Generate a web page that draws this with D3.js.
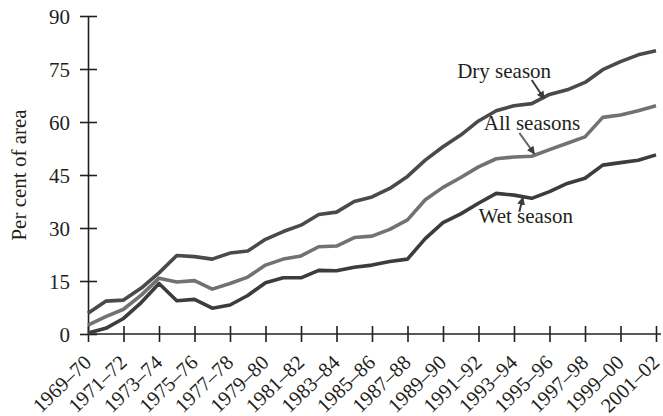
<!DOCTYPE html>
<html>
<head>
<meta charset="utf-8">
<title>Per cent of area</title>
<style>
  body{ margin:0; background:#fff; }
  svg text{ font-family:"Liberation Serif","Times New Roman",serif; fill:#231f20; }
</style>
</head>
<body>
<div id="container"></div>
<script src="https://cdn.jsdelivr.net/npm/d3@7"></script>
<script>
// season years, one point per year 1969-70 .. 2001-02
var years = ["1969–70","1970–71","1971–72","1972–73","1973–74","1974–75","1975–76","1976–77",
  "1977–78","1978–79","1979–80","1980–81","1981–82","1982–83","1983–84","1984–85","1985–86",
  "1986–87","1987–88","1988–89","1989–90","1990–91","1991–92","1992–93","1993–94","1994–95",
  "1995–96","1996–97","1997–98","1998–99","1999–00","2000–01","2001–02"];

var drySeason = [5.9, 9.3, 9.6, 13.0, 17.3, 22.2, 21.9, 21.2, 22.9, 23.5, 26.8, 29.0, 30.8, 33.8, 34.5, 37.5, 38.8,
  41.2, 44.6, 49.2, 53.0, 56.3, 60.3, 63.2, 64.6, 65.2, 67.8, 69.1, 71.2, 74.8, 77.1, 79.0, 80.2];
var allSeasons = [2.5, 4.9, 7.0, 11.0, 15.8, 14.7, 15.1, 12.7, 14.3, 16.1, 19.5, 21.2, 22.1, 24.7, 24.9, 27.3, 27.7,
  29.6, 32.3, 38.0, 41.5, 44.3, 47.3, 49.6, 50.1, 50.3, 52.2, 54.0, 55.8, 61.3, 62.0, 63.2, 64.6];
var wetSeason = [0.3, 1.6, 4.4, 8.9, 14.3, 9.4, 9.8, 7.3, 8.2, 10.9, 14.5, 15.9, 15.9, 18.0, 17.9, 18.9, 19.5,
  20.5, 21.2, 27.0, 31.5, 34.0, 37.0, 39.8, 39.3, 38.4, 40.3, 42.6, 44.1, 47.8, 48.5, 49.2, 50.7];

var yTicks = [0, 15, 30, 45, 60, 75, 90];

var margin = {top: 16, right: 7, bottom: 82, left: 88},
    width = 663 - margin.left - margin.right,
    height = 416 - margin.top - margin.bottom;

var svg = d3.select("#container").append("svg")
    .attr("width", 663)
    .attr("height", 416);

var g = svg.append("g")
    .attr("transform", "translate(" + margin.left + "," + margin.top + ")");

var xScale = d3.scaleLinear().domain([0, years.length - 1]).range([0, width]);
var yScale = d3.scaleLinear().domain([0, 90]).range([height, 0]);

var series = [
  {name: "Dry season", values: drySeason, color: "#4a4a4a",
   label: {x: 20.8, y: 72.5}, arrow: {x1: 25.0, y1: 71.9, x2: 25.7, y2: 66.6}},
  {name: "All seasons", values: allSeasons, color: "#727272",
   label: {x: 22.3, y: 57.7}, arrow: {x1: 24.3, y1: 56.9, x2: 25.15, y2: 51.0}},
  {name: "Wet season", values: wetSeason, color: "#3c3c3c",
   label: {x: 22.0, y: 31.3}, arrow: {x1: 24.3, y1: 34.6, x2: 24.5, y2: 38.6}}
];

var line = d3.line()
  .x(function(d, i) { return xScale(i); })
  .y(function(d) { return yScale(d); });

// axes
var xAxis = d3.axisBottom(xScale)
  .tickValues(d3.range(0, years.length, 2))
  .tickFormat(function(i) { return years[i]; })
  .tickSizeInner(8).tickSizeOuter(0);

var yAxis = d3.axisLeft(yScale)
  .tickValues(yTicks)
  .tickSizeInner(8).tickSizeOuter(0);

var gx = g.append("g")
  .attr("transform", "translate(0," + height + ")")
  .call(xAxis);
gx.select(".domain").attr("d", "M0,0H" + (width + 5));
gx.selectAll(".tick line").attr("y1", -8);
gx.selectAll(".tick text")
  .attr("text-anchor", "end")
  .attr("font-size", 20.5)
  .attr("dy", null)
  .attr("transform", "translate(4,30) rotate(-44)")
  .attr("y", 0).attr("x", 0);

var gy = g.append("g").call(yAxis);
gy.selectAll(".tick line").attr("x1", 9);
gy.selectAll(".tick text")
  .attr("font-size", 21)
  .attr("x", -18)
  .attr("dy", "0.34em");

g.selectAll(".domain, .tick line").attr("stroke", "#231f20").attr("stroke-width", 1.6);
g.selectAll(".tick text").attr("fill", "#231f20").style("font-family", "'Liberation Serif', serif");

// y label
g.append("text")
  .text("Per cent of area")
  .attr("transform", "rotate(-90)")
  .attr("x", -yScale(45))
  .attr("y", -62)
  .attr("text-anchor", "middle")
  .attr("font-size", 21);

// lines
g.selectAll(".plotline")
  .data(series)
  .enter().append("path")
  .attr("class", "plotline")
  .attr("d", function(d) { return line(d.values); })
  .attr("fill", "none")
  .attr("stroke", function(d) { return d.color; })
  .attr("stroke-width", 3.6)
  .attr("stroke-linejoin", "round");

// annotations
svg.append("defs").append("marker")
  .attr("id", "arrowhead")
  .attr("viewBox", "0 0 10 10")
  .attr("refX", 9).attr("refY", 5)
  .attr("markerWidth", 4).attr("markerHeight", 4)
  .attr("orient", "auto")
  .append("path")
  .attr("d", "M0,0L10,5L0,10z")
  .attr("fill", "#3c3c3c");

var notes = g.selectAll(".note").data(series).enter().append("g").attr("class", "note");
notes.append("text")
  .text(function(d) { return d.name; })
  .attr("x", function(d) { return xScale(d.label.x); })
  .attr("y", function(d) { return yScale(d.label.y); })
  .attr("font-size", 21);
notes.append("line")
  .attr("x1", function(d) { return xScale(d.arrow.x1); })
  .attr("y1", function(d) { return yScale(d.arrow.y1); })
  .attr("x2", function(d) { return xScale(d.arrow.x2); })
  .attr("y2", function(d) { return yScale(d.arrow.y2); })
  .attr("stroke", function(d) { return d.name == "All seasons" ? "#6a6a6a" : "#3c3c3c"; })
  .attr("stroke-width", 2)
  .attr("marker-end", "url(#arrowhead)");
</script>
</body>
</html>
